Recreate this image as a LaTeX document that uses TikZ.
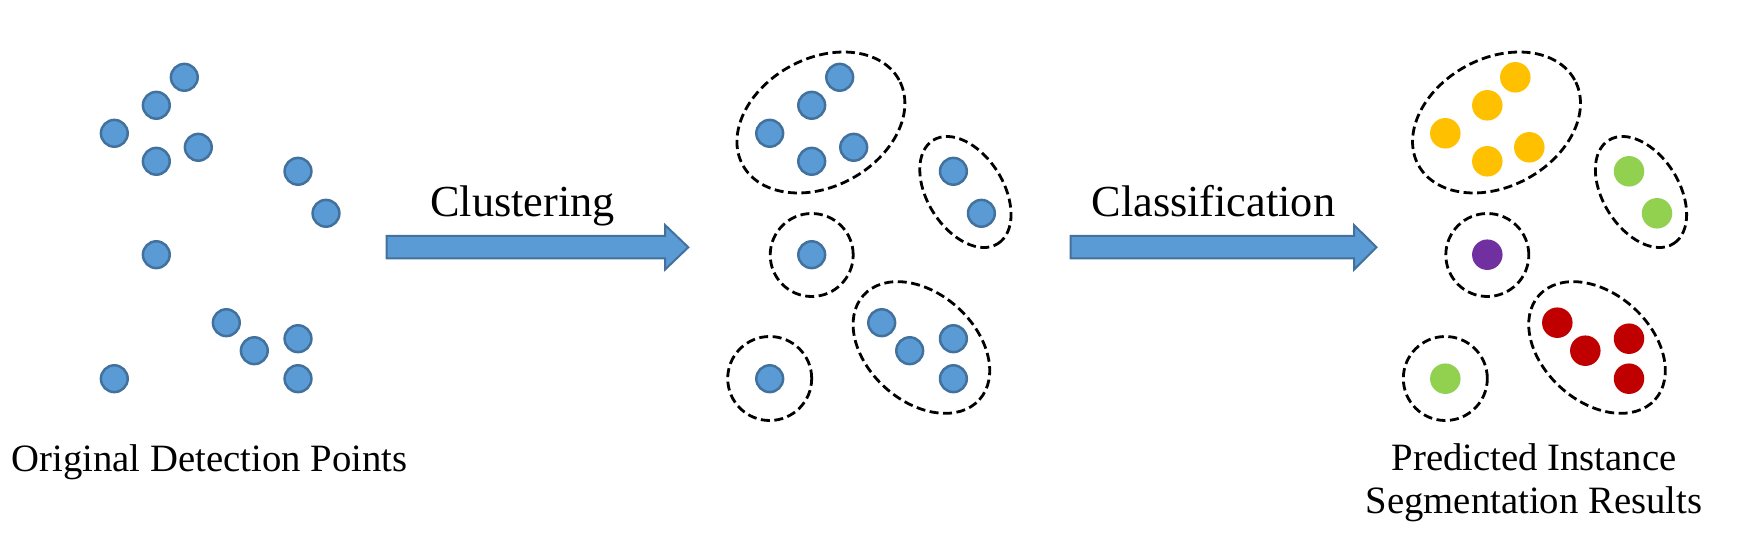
\documentclass[tikz,border=0pt]{standalone}
\usepackage{fontspec}
\setmainfont{Liberation Serif}
\usetikzlibrary{shapes.geometric}
\definecolor{dotblue}{HTML}{5B9BD5}
\definecolor{dotedge}{HTML}{41719C}
\definecolor{cyellow}{HTML}{FFC000}
\definecolor{cgreen}{HTML}{92D050}
\definecolor{cpurple}{HTML}{7030A0}
\definecolor{cred}{HTML}{C00000}
\begin{document}
\begin{tikzpicture}[x=1pt,y=-1pt,
  dot/.style={circle,fill=dotblue,draw=dotedge,line width=2.5pt,minimum size=26.8pt,inner sep=0pt},
  cdot/.style={circle,fill=#1,minimum size=30.5pt,inner sep=0pt},
  grp/.style={ellipse,draw=black,line width=2.8pt,dash pattern=on 9pt off 4.5pt,inner sep=0pt},
  blockarrow/.style={fill=dotblue,draw=dotedge,line width=2pt,line join=miter},
  steplabel/.style={font=\fontsize{44.3}{53}\selectfont,anchor=base,inner sep=0pt},
  caption/.style={font=\fontsize{38.7}{43.3}\selectfont,anchor=base,inner sep=0pt,align=center}]
\useasboundingbox (0,0) rectangle (1758,537);

% Panel 1: original points
\begin{scope}
\node[dot] (a1) at (184.3,77.3) {};
\node[dot] (a2) at (156.3,105.3) {};
\node[dot] (a3) at (114.3,133.3) {};
\node[dot] (a4) at (156.3,161.3) {};
\node[dot] (a5) at (198.3,147.3) {};
\node[dot] (a6) at (298,171.3) {};
\node[dot] (a7) at (326,213.3) {};
\node[dot] (a8) at (156.3,254.7) {};
\node[dot] (a9) at (226.3,322.7) {};
\node[dot] (a10) at (254.3,350.7) {};
\node[dot] (a11) at (298,338.7) {};
\node[dot] (a12) at (298,378.7) {};
\node[dot] (a13) at (114.3,378.7) {};
\end{scope}

% Panel 2: clusters
\begin{scope}[xshift=655.4pt]
\node[grp,minimum width=178pt,minimum height=128pt,rotate=28.5] (b-top) at (165.5,122.5) {};
\node[grp,minimum width=122pt,minimum height=76pt,rotate=-58] (b-right) at (310,192) {};
\node[grp,minimum width=83pt,minimum height=83pt] (b-mid) at (156.3,255) {};
\node[grp,minimum width=84pt,minimum height=84pt] (b-bl) at (114.3,378.5) {};
\node[grp,minimum width=156pt,minimum height=108pt,rotate=-42] (b-br) at (266,347.5) {};
\node[dot] (b1) at (184.3,77.3) {};
\node[dot] (b2) at (156.3,105.3) {};
\node[dot] (b3) at (114.3,133.3) {};
\node[dot] (b4) at (156.3,161.3) {};
\node[dot] (b5) at (198.3,147.3) {};
\node[dot] (b6) at (298,171.3) {};
\node[dot] (b7) at (326,213.3) {};
\node[dot] (b8) at (156.3,254.7) {};
\node[dot] (b9) at (226.3,322.7) {};
\node[dot] (b10) at (254.3,350.7) {};
\node[dot] (b11) at (298,338.7) {};
\node[dot] (b12) at (298,378.7) {};
\node[dot] (b13) at (114.3,378.7) {};
\end{scope}

% Panel 3: classified clusters
\begin{scope}[xshift=1331pt]
\node[grp,minimum width=178pt,minimum height=128pt,rotate=28.5] (c-top) at (165.5,122.5) {};
\node[grp,minimum width=122pt,minimum height=76pt,rotate=-58] (c-right) at (310,192) {};
\node[grp,minimum width=83pt,minimum height=83pt] (c-mid) at (156.3,255) {};
\node[grp,minimum width=84pt,minimum height=84pt] (c-bl) at (114.3,378.5) {};
\node[grp,minimum width=156pt,minimum height=108pt,rotate=-42] (c-br) at (266,347.5) {};
\node[cdot=cyellow] (c1) at (184.3,77.3) {};
\node[cdot=cyellow] (c2) at (156.3,105.3) {};
\node[cdot=cyellow] (c3) at (114.3,133.3) {};
\node[cdot=cyellow] (c4) at (156.3,161.3) {};
\node[cdot=cyellow] (c5) at (198.3,147.3) {};
\node[cdot=cgreen] (c6) at (298,171.3) {};
\node[cdot=cgreen] (c7) at (326,213.3) {};
\node[cdot=cpurple] (c8) at (156.3,254.7) {};
\node[cdot=cred] (c9) at (226.3,322.7) {};
\node[cdot=cred] (c10) at (254.3,350.7) {};
\node[cdot=cred] (c11) at (298,338.7) {};
\node[cdot=cred] (c12) at (298,378.7) {};
\node[cdot=cgreen] (c13) at (114.3,378.7) {};
\end{scope}

% Block arrows
\draw[blockarrow] (386.7,236) -- (665,236) -- (665,225) -- (688.3,247.3) -- (665,269.6) -- (665,258.5) -- (386.7,258.5) -- cycle;
\draw[blockarrow] (1070.7,236) -- (1354,236) -- (1354,225) -- (1376.5,247.3) -- (1354,269.6) -- (1354,258.5) -- (1070.7,258.5) -- cycle;

% Labels
\node[steplabel] (lclust) at (522.5,216.7) {Clustering};
\node[steplabel] (lclass) at (1213.3,216.7) {Classification};
\node[caption] (lorig) at (209.5,471) {Original Detection Points};
\node[caption] (lpred) at (1534,513.3) {Predicted Instance\\Segmentation Results};
\end{tikzpicture}
\end{document}
